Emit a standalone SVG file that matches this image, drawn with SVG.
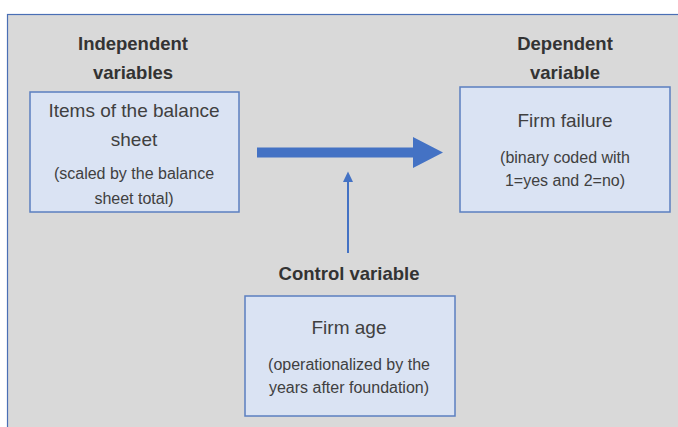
<svg xmlns="http://www.w3.org/2000/svg" width="678" height="427" viewBox="0 0 678 427">
<style>
.node{fill:#dae3f3;stroke:#5b7fc0;stroke-width:1.5}
.t{font-family:"Liberation Sans",Arial,sans-serif;fill:#404040;text-anchor:middle}
.big{font-size:19px}
.small{font-size:16px}
.head{font-size:18.5px;font-weight:bold;fill:#333333}
.arrow{fill:#4472c4}
</style>
<rect x="0" y="0" width="678" height="427" fill="#ffffff"/>
<rect x="7.5" y="14.5" width="680" height="420" fill="#d9d9d9" stroke="#4a6fb5" stroke-width="1.2"/>
<g id="heading-independent">
<text class="t head" x="133" y="50">Independent</text>
<text class="t head" x="133" y="79">variables</text>
</g>
<g id="heading-dependent">
<text class="t head" x="565" y="50">Dependent</text>
<text class="t head" x="565" y="79">variable</text>
</g>
<g id="heading-control">
<text class="t head" x="349" y="280">Control variable</text>
</g>
<g id="node-independent">
<rect class="node" x="30" y="92" width="209" height="120"/>
<text class="t big" x="134" y="117">Items of the balance</text>
<text class="t big" x="134" y="146">sheet</text>
<text class="t small" x="134" y="179">(scaled by the balance</text>
<text class="t small" x="134" y="204">sheet total)</text>
</g>
<g id="node-dependent">
<rect class="node" x="460" y="87" width="210" height="125"/>
<text class="t big" x="565" y="127">Firm failure</text>
<text class="t small" x="565" y="163">(binary coded with</text>
<text class="t small" x="565" y="186">1=yes and 2=no)</text>
</g>
<g id="node-control">
<rect class="node" x="245" y="296" width="210" height="120"/>
<text class="t big" x="349" y="334">Firm age</text>
<text class="t small" x="349" y="370">(operationalized by the</text>
<text class="t small" x="349" y="393">years after foundation)</text>
</g>
<g id="connectors">
<path class="arrow" d="M257,147.5 L413,147.5 L413,137 L443,152.5 L413,168 L413,157.5 L257,157.5 Z"/>
<line x1="348" y1="253" x2="348" y2="180" stroke="#4472c4" stroke-width="2"/>
<path class="arrow" d="M348,171.5 L353,182 L343,182 Z"/>
</g>
</svg>
